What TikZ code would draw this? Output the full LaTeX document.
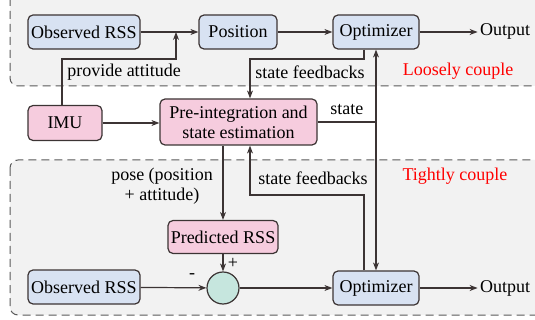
\documentclass[tikz,border=0pt]{standalone}
\usepackage{fontspec}
\setmainfont{Liberation Serif}
\usetikzlibrary{arrows.meta,positioning,calc}
\definecolor{linecol}{RGB}{60,52,52}
\definecolor{rssblue}{RGB}{216,226,242}
\definecolor{imupink}{RGB}{246,204,222}
\definecolor{sumgreen}{RGB}{198,230,222}
\definecolor{regiongray}{RGB}{242,242,242}
\tikzset{
block/.style={draw=linecol, rounded corners=2.5pt, line width=0.6pt, inner sep=1pt, align=center},
blueblock/.style={block, fill=rssblue},
pinkblock/.style={block, fill=imupink},
sumnode/.style={circle, draw=linecol, fill=sumgreen, line width=0.6pt, minimum size=16pt, inner sep=0pt},
region/.style={draw=gray!70!black, dash pattern=on 4pt off 2.5pt, rounded corners=4pt, fill=regiongray, line width=0.5pt},
arr/.style={->,>={Stealth[length=4pt,width=3pt]}, draw=linecol, line width=0.6pt},
ln/.style={draw=linecol, line width=0.6pt},
}
\tikzstyle{every node}=[font=\fontsize{9}{10}\selectfont]

\begin{document}
\begin{tikzpicture}[
            x=0.5pt, y=-0.5pt,
            couple/.style={red}
        ]
        \useasboundingbox (0,0) rectangle (535,320);
        \begin{scope}
            \clip (0,0) rectangle (535,320);
            \draw[region] (10,-10) rectangle (560,86);
            \draw[region] (10,160) rectangle (560,315);
        \end{scope}

        \node[blueblock, minimum width=56pt, minimum height=17pt] (obs1) at (84,32) {Observed RSS};
        \node[blueblock, minimum width=39pt, minimum height=17pt] (pos) at (238,32) {Position};
        \node[blueblock, minimum width=43pt, minimum height=17pt] (opt1) at (376,32) {Optimizer};
        \node[inner sep=1pt] (out1) at (505,31) {Output};

        \node[pinkblock, minimum width=37pt, minimum height=17.5pt] (imu) at (65,123) {IMU};
        \node[pinkblock, minimum width=78.5pt, minimum height=23pt] (pre) at (238.5,122) {Pre-integration and\\state estimation};
        \node[pinkblock, minimum width=55pt, minimum height=16.5pt] (pred) at (223,237) {Predicted RSS};
        \node[sumnode] (sum) at (223,288) {};
        \node[blueblock, minimum width=56pt, minimum height=17pt] (obs2) at (84,287) {Observed RSS};
        \node[blueblock, minimum width=43pt, minimum height=17pt] (opt2) at (376,288) {Optimizer};
        \node[inner sep=1pt] (out2) at (505,288) {Output};

        \coordinate (attbend) at (176,59);
        \coordinate (fbtop) at (250,59);
        \coordinate (fbbot) at (250,195);

        \draw[arr] (obs1) -- (pos);
        \draw[arr] (pos) -- (opt1);
        \draw[arr] (opt1) -- (out1.west |- opt1.east);
        \draw[arr] ([xshift=-1.5pt]imu.north) |- (attbend) -- (attbend |- obs1.east);
        \node (attlabel) at (124,72) {provide attitude};
        \draw[arr] ([xshift=-6pt]opt1.south) |- (fbtop) -- (fbtop |- pre.north);
        \node (fbtoplabel) at (310,72) {state feedbacks};
        \draw[arr] (imu.east) -- (imu.east -| pre.west);
        \draw[ln] (pre.east) -- (pre.east -| opt1.south) coordinate (stj)
            node[midway, above] {state};
        \draw[arr] (stj) -- (opt1.south);
        \draw[arr] (stj) -- (opt2.north);

        \draw[arr] (pre.south -| pred.north) -- (pred.north);
        \node[align=center] (poselabel) at (162,186) {pose (position\\+ attitude)};
        \draw[arr] ([xshift=-6pt]opt2.north) |- (fbbot) -- (fbbot |- pre.south);
        \node (fbbotlabel) at (313,178) {state feedbacks};

        \draw[arr] (pred) -- (sum);
        \node[inner sep=1pt] (plus) at (233,263) {+};
        \draw[arr] (obs2) -- (sum);
        \node[inner sep=1pt] (minus) at (192,276) {-};
        \draw[arr] (sum) -- (sum -| opt2.west);
        \draw[arr] (opt2) -- (out2);

        \node[couple] (loose) at (458,71) {Loosely couple};
        \node[couple] (tight) at (455,176) {Tightly couple};
    \end{tikzpicture}
\end{document}
